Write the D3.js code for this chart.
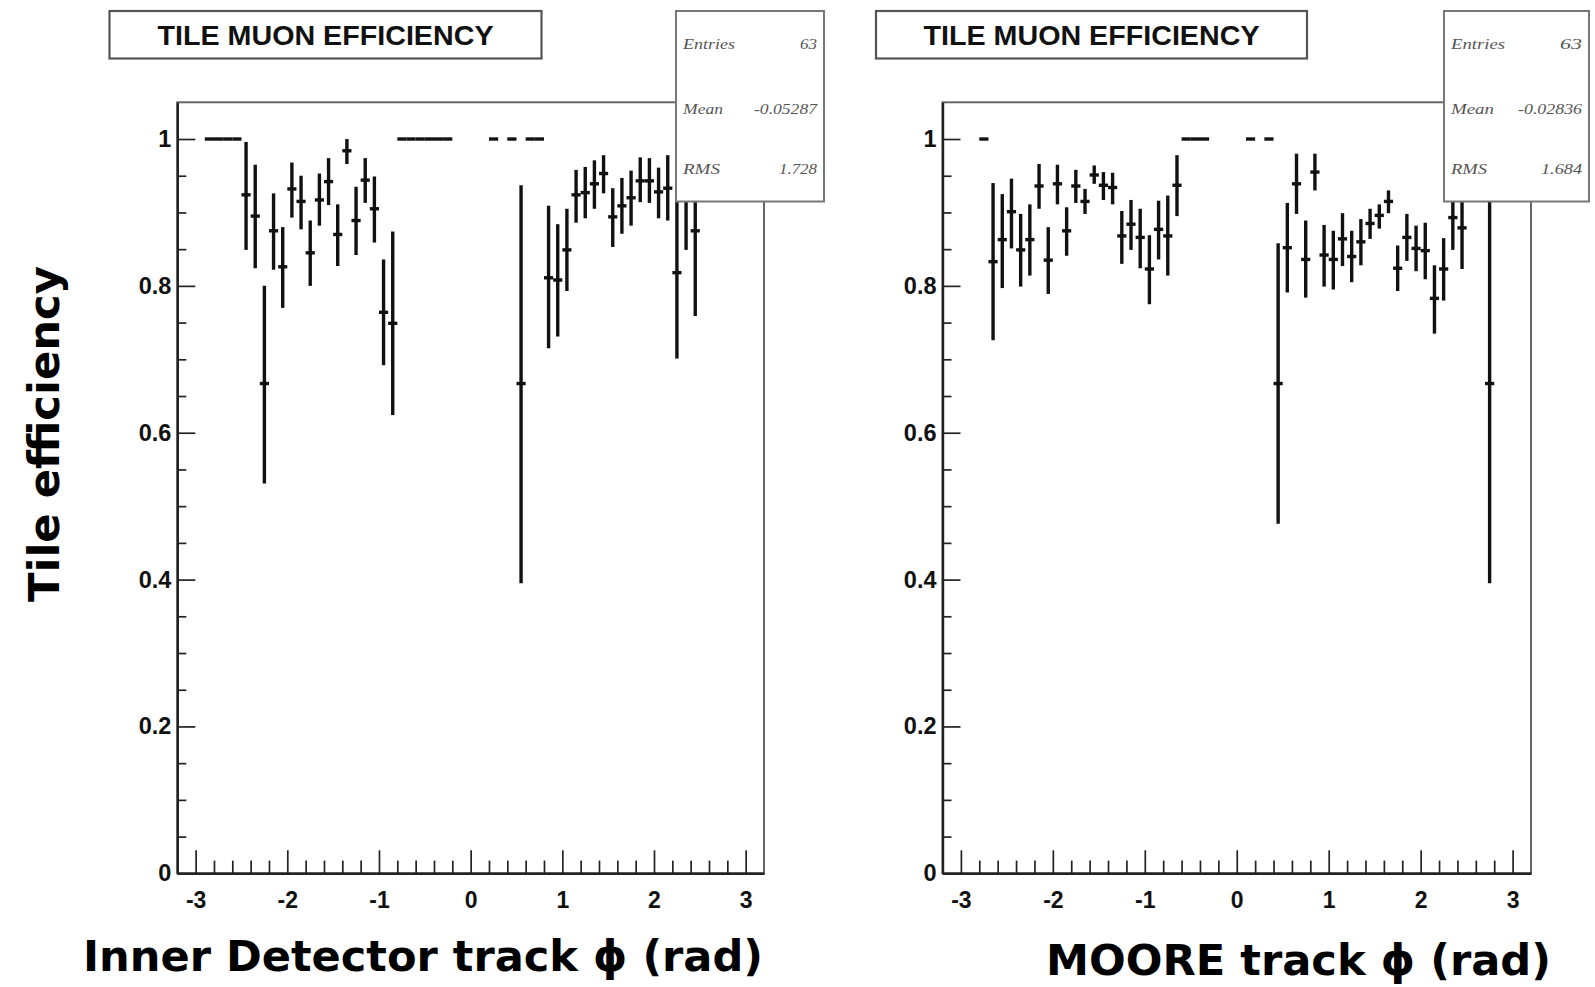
<!DOCTYPE html>
<html>
<head>
<meta charset="utf-8">
<script src="https://cdn.jsdelivr.net/npm/d3@7"></script>
<style>
  html, body { margin: 0; padding: 0; background: #fff; }
  svg { display: block; }
</style>
</head>
<body>
<svg id="chart" width="1595" height="987"></svg>
<script>
// ---------------- DATA ----------------
// Left panel: Inner Detector track phi
const idPhi   = [-2.85,-2.75,-2.65,-2.55,-2.45,-2.35,-2.25,-2.15,-2.05,-1.95,-1.85,-1.75,-1.65,-1.55,-1.45,-1.35,-1.25,-1.15,-1.05,-0.95,-0.85,-0.75,-0.65,-0.55,-0.45,-0.35,-0.25,0.25,0.45,0.55,0.65,0.75,0.85,0.95,1.05,1.15,1.25,1.35,1.45,1.55,1.65,1.75,1.85,1.95,2.05,2.15,2.25,2.35,2.45];
const idEff   = [1,1,1,1,0.924,0.895,0.667,0.875,0.826,0.932,0.915,0.845,0.917,0.942,0.870,0.984,0.889,0.944,0.905,0.764,0.749,1,1,1,1,1,1,1,1,0.667,1,1,0.811,0.808,0.849,0.924,0.927,0.939,0.953,0.894,0.909,0.920,0.943,0.943,0.928,0.933,0.818,0.930,0.875];
const idErrLo = [0,0,0,0,0.075,0.071,0.136,0.053,0.056,0.039,0.038,0.045,0.035,0.032,0.043,0.018,0.047,0.031,0.046,0.072,0.125,0,0,0,0,0,0,0,0,0.272,0,0,0.096,0.077,0.056,0.038,0.035,0.034,0.027,0.041,0.038,0.038,0.029,0.030,0.036,0.044,0.117,0.081,0.116];
const idErrHi = [0,0,0,0,0.072,0.070,0.133,0.051,0.054,0.036,0.035,0.044,0.036,0.032,0.041,0.016,0.046,0.030,0.044,0.072,0.125,0,0,0,0,0,0,0,0,0.270,0,0,0.098,0.076,0.056,0.034,0.035,0.032,0.025,0.039,0.038,0.037,0.032,0.031,0.033,0.045,0.100,0.040,0.080];

// Right panel: MOORE track phi
const mooPhi   = [-2.75,-2.65,-2.55,-2.45,-2.35,-2.25,-2.15,-2.05,-1.95,-1.85,-1.75,-1.65,-1.55,-1.45,-1.35,-1.25,-1.15,-1.05,-0.95,-0.85,-0.75,-0.65,-0.55,-0.45,-0.35,0.15,0.35,0.45,0.55,0.65,0.75,0.85,0.95,1.05,1.15,1.25,1.35,1.45,1.55,1.65,1.75,1.85,1.95,2.05,2.15,2.25,2.35,2.45,2.75];
const mooEff   = [1,0.833,0.863,0.901,0.849,0.863,0.936,0.835,0.939,0.875,0.936,0.915,0.951,0.937,0.934,0.868,0.884,0.866,0.823,0.877,0.868,0.937,1,1,1,1,1,0.667,0.852,0.939,0.836,0.955,0.842,0.836,0.864,0.840,0.860,0.885,0.896,0.915,0.824,0.866,0.851,0.848,0.783,0.823,0.893,0.879,0.667];
const mooErrLo = [0,0.107,0.066,0.050,0.050,0.049,0.031,0.046,0.028,0.034,0.023,0.017,0.012,0.020,0.023,0.038,0.035,0.042,0.048,0.041,0.054,0.042,0,0,0,0,0,0.191,0.061,0.041,0.052,0.025,0.043,0.041,0.037,0.035,0.032,0.021,0.018,0.016,0.031,0.032,0.031,0.039,0.048,0.043,0.044,0.056,0.272];
const mooErrHi = [0,0.107,0.062,0.045,0.049,0.048,0.030,0.045,0.026,0.032,0.022,0.017,0.013,0.018,0.020,0.034,0.033,0.039,0.046,0.039,0.055,0.041,0,0,0,0,0,0.191,0.061,0.041,0.053,0.025,0.041,0.039,0.035,0.035,0.031,0.020,0.015,0.015,0.031,0.032,0.031,0.038,0.045,0.042,0.040,0.045,0.270];

const xMajorTicks = [-3,-2,-1,0,1,2,3];
const yMajorTicks = [0,0.2,0.4,0.6,0.8,1];
const titleText = "TILE MUON EFFICIENCY";
const statLabels = ["Entries","Mean","RMS"];
const idStats  = ["63","-0.05287","1.728"];
const mooStats = ["63","-0.02836","1.684"];
const yTitle = "Tile efficiency";
const idXTitle = "Inner Detector track \u03D5 (rad)";
const mooXTitle = "MOORE track \u03D5 (rad)";
const binWidth = 0.1;

// ---------------- DRAW ----------------
const svg = d3.select("#chart");

function fitText(sel, target) {
  sel.each(function() {
    const w = this.getComputedTextLength();
    if (w > 0) d3.select(this).attr("textLength", target).attr("lengthAdjust", "spacingAndGlyphs");
  });
}

function panel(cfg) {
  const x = d3.scaleLinear().domain([-3.2, 3.2]).range([cfg.x0, cfg.x1]);
  const y = d3.scaleLinear().domain([0, 1.05]).range([873.3, 102.3]);
  const g = svg.append("g");

  // frame (top/right)
  g.append("rect").attr("x", cfg.x0).attr("y", y(1.05))
    .attr("width", cfg.x1 - cfg.x0).attr("height", y(0) - y(1.05))
    .attr("fill", "none").attr("stroke", "#666").attr("stroke-width", 2);

  // minor x ticks
  const xMinor = d3.range(-3.0, 3.01, 0.2).map(v => Math.round(v * 10) / 10)
    .filter(v => Math.abs(v - Math.round(v)) > 1e-6);
  g.append("g").attr("transform", `translate(0,${y(0)})`)
    .call(d3.axisBottom(x).tickValues(xMinor).tickSize(-12.7).tickSizeOuter(0).tickFormat(""))
    .call(a => a.selectAll("line").attr("stroke", "#222").attr("stroke-width", 1.7))
    .call(a => a.select(".domain").remove());
  // major x ticks + labels
  g.append("g").attr("transform", `translate(0,${y(0)})`)
    .call(d3.axisBottom(x).tickValues(xMajorTicks).tickSize(-23).tickSizeOuter(0).tickPadding(18).tickFormat(d3.format("d")))
    .call(a => a.selectAll("line").attr("stroke", "#222").attr("stroke-width", 1.7))
    .call(a => a.select(".domain").attr("stroke", "#222").attr("stroke-width", 2.4))
    .call(a => a.selectAll("text").attr("font-family", "Liberation Sans, Arial, sans-serif")
      .attr("font-weight", "bold").attr("font-size", 23).attr("fill", "#111")
      .text(d => d < 0 ? "-" + Math.abs(d) : d));

  // minor y ticks
  const yMinor = d3.range(0.05, 1.0, 0.05).map(v => Math.round(v * 100) / 100)
    .filter(v => Math.abs(v * 5 - Math.round(v * 5)) > 1e-6);
  g.append("g").attr("transform", `translate(${cfg.x0},0)`)
    .call(d3.axisLeft(y).tickValues(yMinor).tickSize(-9).tickSizeOuter(0).tickFormat(""))
    .call(a => a.selectAll("line").attr("stroke", "#222").attr("stroke-width", 1.7))
    .call(a => a.select(".domain").remove());
  g.append("g").attr("transform", `translate(${cfg.x0},0)`)
    .call(d3.axisLeft(y).tickValues(yMajorTicks).tickSize(-18).tickSizeOuter(0).tickPadding(6)
      .tickFormat(d => d === 0 ? "0" : d === 1 ? "1" : d3.format(".1f")(d)))
    .call(a => a.selectAll("line").attr("stroke", "#222").attr("stroke-width", 1.7))
    .call(a => a.select(".domain").attr("stroke", "#222").attr("stroke-width", 2.4))
    .call(a => a.selectAll("text").attr("font-family", "Liberation Sans, Arial, sans-serif")
      .attr("font-weight", "bold").attr("font-size", 23.5).attr("fill", "#111"));

  // data points with asymmetric errors
  const pts = cfg.phi.map((p, i) => ({p, v: cfg.eff[i], lo: cfg.lo[i], hi: cfg.hi[i]}));
  const pg = g.append("g").attr("stroke", "#111").attr("stroke-width", 3.4);
  pg.selectAll("line.v").data(pts.filter(d => d.lo + d.hi > 0)).join("line").attr("class", "v")
    .attr("x1", d => x(d.p)).attr("x2", d => x(d.p))
    .attr("y1", d => y(d.v - d.lo)).attr("y2", d => y(d.v + d.hi));
  pg.selectAll("line.h").data(pts).join("line").attr("class", "h")
    .attr("x1", d => x(d.p - binWidth / 2)).attr("x2", d => x(d.p + binWidth / 2))
    .attr("y1", d => y(d.v)).attr("y2", d => y(d.v));

  // title box
  g.append("rect").attr("x", cfg.tx0).attr("y", 11).attr("width", cfg.tx1 - cfg.tx0).attr("height", 47.5)
    .attr("fill", "#fff").attr("stroke", "#555").attr("stroke-width", 2.2);
  g.append("text").attr("x", (cfg.tx0 + cfg.tx1) / 2).attr("y", 45).attr("text-anchor", "middle")
    .attr("font-family", "Liberation Sans, Arial, sans-serif").attr("font-weight", "bold")
    .attr("font-size", 27).attr("fill", "#111").text(titleText).call(fitText, 336);

  // stats box
  g.append("rect").attr("x", cfg.sx0).attr("y", 11).attr("width", cfg.sx1 - cfg.sx0).attr("height", 190.5)
    .attr("fill", "#fff").attr("stroke", "#777").attr("stroke-width", 2);
  const rowsY = [49, 114, 174];
  statLabels.forEach((lab, i) => {
    g.append("text").attr("x", cfg.sx0 + 7).attr("y", rowsY[i])
      .attr("font-family", "Liberation Serif, Times New Roman, serif").attr("font-style", "italic")
      .attr("font-size", 14).attr("fill", "#555").text(lab).call(fitText, cfg.labW[i]);
    g.append("text").attr("x", cfg.sx1 - 7).attr("y", rowsY[i]).attr("text-anchor", "end")
      .attr("font-family", "Liberation Serif, Times New Roman, serif").attr("font-style", "italic")
      .attr("font-size", 14).attr("fill", "#555").text(cfg.stats[i]).call(fitText, cfg.valW[i]);
  });

  // x title
  g.append("text").attr("x", cfg.xtX).attr("y", cfg.xtY)
    .attr("font-family", "DejaVu Sans, sans-serif").attr("font-weight", "bold")
    .attr("font-size", 42).attr("fill", "#000").text(cfg.xTitle).call(fitText, cfg.xtW);
}

panel({x0: 177.3, x1: 764, tx0: 109.5, tx1: 541.5, sx0: 676, sx1: 824,
  phi: idPhi, eff: idEff, lo: idErrLo, hi: idErrHi, stats: idStats,
  labW: [52, 40, 37], valW: [17, 63, 38],
  xTitle: idXTitle, xtX: 83, xtY: 971, xtW: 680});
panel({x0: 942.5, x1: 1531, tx0: 876, tx1: 1307, sx0: 1444, sx1: 1589,
  phi: mooPhi, eff: mooEff, lo: mooErrLo, hi: mooErrHi, stats: mooStats,
  labW: [54, 43, 36], valW: [22, 64, 41],
  xTitle: mooXTitle, xtX: 1046, xtY: 975, xtW: 505});

// y title
svg.append("text").attr("transform", "translate(59,434) rotate(-90)").attr("text-anchor", "middle")
  .attr("font-family", "DejaVu Sans, sans-serif").attr("font-weight", "bold")
  .attr("font-size", 43).attr("fill", "#000").text(yTitle).call(fitText, 336);
</script>
</body>
</html>
